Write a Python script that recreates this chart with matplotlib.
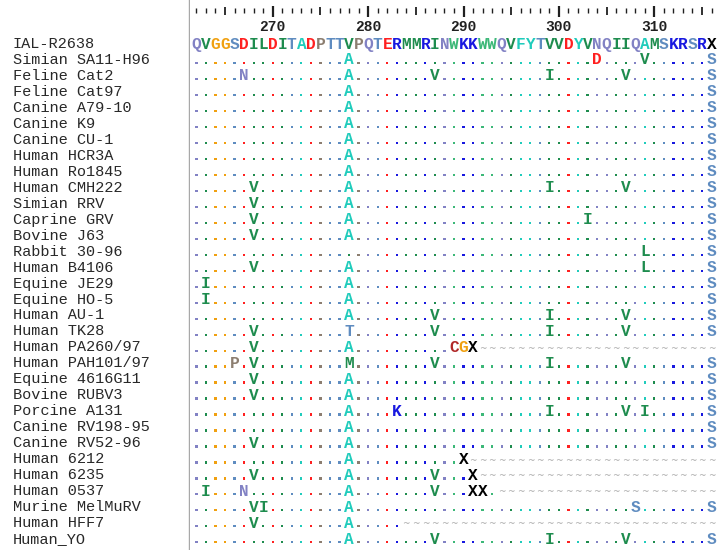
import matplotlib
matplotlib.use("Agg")
import matplotlib.pyplot as plt
import numpy as np

# ---------------- data ----------------
names = [
    "IAL-R2638", "Simian SA11-H96", "Feline Cat2", "Feline Cat97", "Canine A79-10",
    "Canine K9", "Canine CU-1", "Human HCR3A", "Human Ro1845", "Human CMH222",
    "Simian RRV", "Caprine GRV", "Bovine J63", "Rabbit 30-96", "Human B4106",
    "Equine JE29", "Equine HO-5", "Human AU-1", "Human TK28", "Human PA260/97",
    "Human PAH101/97", "Equine 4616G11", "Bovine RUBV3", "Porcine A131",
    "Canine RV198-95", "Canine RV52-96", "Human 6212", "Human 6235", "Human 0537",
    "Murine MelMuRV", "Human HFF7", "Human_YO",
]

reference = "QVGGS DILDI TADPT TVPQT ERMMR INWKK WWQVF YTVVD YVNQI IQAMS KRSRX"

# '.' identical to reference, '~' gap, letter = substitution (groups of 5 columns)
variants = [
    "..... ..... ..... .A... ..... ..... ..... ..... ..D.. ..V.. ....S",  # Simian SA11-H96
    "..... N.... ..... .A... ..... V.... ..... ..I.. ..... V.... ....S",  # Feline Cat2
    "..... ..... ..... .A... ..... ..... ..... ..... ..... ..... ....S",  # Feline Cat97
    "..... ..... ..... .A... ..... ..... ..... ..... ..... ..... ....S",  # Canine A79-10
    "..... ..... ..... .A... ..... ..... ..... ..... ..... ..... ....S",  # Canine K9
    "..... ..... ..... .A... ..... ..... ..... ..... ..... ..... ....S",  # Canine CU-1
    "..... ..... ..... .A... ..... ..... ..... ..... ..... ..... ....S",  # Human HCR3A
    "..... ..... ..... .A... ..... ..... ..... ..... ..... ..... ....S",  # Human Ro1845
    "..... .V... ..... .A... ..... ..... ..... ..I.. ..... V.... ....S",  # Human CMH222
    "..... .V... ..... .A... ..... ..... ..... ..... ..... ..... ....S",  # Simian RRV
    "..... .V... ..... .A... ..... ..... ..... ..... .I... ..... ....S",  # Caprine GRV
    "..... .V... ..... .A... ..... ..... ..... ..... ..... ..... ....S",  # Bovine J63
    "..... ..... ..... ..... ..... ..... ..... ..... ..... ..L.. ....S",  # Rabbit 30-96
    "..... .V... ..... .A... ..... ..... ..... ..... ..... ..L.. ....S",  # Human B4106
    ".I... ..... ..... .A... ..... ..... ..... ..... ..... ..... ....S",  # Equine JE29
    ".I... ..... ..... .A... ..... ..... ..... ..... ..... ..... ....S",  # Equine HO-5
    "..... ..... ..... .A... ..... V.... ..... ..I.. ..... V.... ....S",  # Human AU-1
    "..... .V... ..... .T... ..... V.... ..... ..I.. ..... V.... ....S",  # Human TK28
    "..... .V... ..... .A... ..... ..CGX ~~~~~ ~~~~~ ~~~~~ ~~~~~ ~~~~~",  # Human PA260/97
    "....P .V... ..... .M... ..... V.... ..... ..I.. ..... V.... ....S",  # Human PAH101/97
    "..... .V... ..... .A... ..... ..... ..... ..... ..... ..... ....S",  # Equine 4616G11
    "..... .V... ..... .A... ..... ..... ..... ..... ..... ..... ....S",  # Bovine RUBV3
    "..... ..... ..... .A... .K... ..... ..... ..I.. ..... V.I.. ....S",  # Porcine A131
    "..... ..... ..... .A... ..... ..... ..... ..... ..... ..... ....S",  # Canine RV198-95
    "..... .V... ..... .A... ..... ..... ..... ..... ..... ..... ....S",  # Canine RV52-96
    "..... ..... ..... .A... ..... ...X~ ~~~~~ ~~~~~ ~~~~~ ~~~~~ ~~~~~",  # Human 6212
    "..... .V... ..... .A... ..... V...X ~~~~~ ~~~~~ ~~~~~ ~~~~~ ~~~~~",  # Human 6235
    ".I... N.... ..... .A... ..... V...X X.~~~ ~~~~~ ~~~~~ ~~~~~ ~~~~~",  # Human 0537
    "..... .VI.. ..... .A... ..... ..... ..... ..... ..... .S... ....S",  # Murine MelMuRV
    "..... .V... ..... .A... ..~~~ ~~~~~ ~~~~~ ~~~~~ ~~~~~ ~~~~~ ~~~~~",  # Human HFF7
    "..... ..... ..... .A... ..... V.... ..... ..I.. ..... V.... ....S",  # Human_YO
]

first_position = 262
ruler_labels = [270, 280, 290, 300, 310]

residue_colors = {
    "Q": "#8282C4", "N": "#8282C4",
    "V": "#1E8C4E", "I": "#1E8C4E", "L": "#1E8C4E", "M": "#1E8C4E",
    "W": "#3CB878",
    "G": "#F0A010",
    "S": "#5F8CC0", "T": "#5F8CC0",
    "D": "#FF2020", "E": "#FF2020",
    "A": "#20CCBC", "F": "#20CCBC", "Y": "#20CCBC",
    "P": "#8C7E70",
    "K": "#1818E0", "R": "#1818E0",
    "C": "#B02828",
    "X": "#000000",
}

# ---------------- layout ----------------
W, H = 721, 550
X_PANEL = 190.0     # px where alignment panel starts
COL0_PX = 196.4     # px centre of first column
PITCH = 9.54        # px per column
ROW0_PX = 44.0      # px centre of first row
ROW_H = 15.97       # px per row

ref = reference.replace(" ", "")
rows = [ref] + [v.replace(" ", "") for v in variants]
ncol = len(ref)

fig = plt.figure(figsize=(W / 100, H / 100), dpi=100)
fig.patch.set_facecolor("white")

ax = fig.add_axes([X_PANEL / W, 0, 1 - X_PANEL / W, 1])
ax.set_xlim(first_position + (X_PANEL - COL0_PX) / PITCH,
            first_position + (W - COL0_PX) / PITCH)
ax.set_ylim((H - ROW0_PX) / ROW_H, -ROW0_PX / ROW_H)
ax.axis("off")

axn = fig.add_axes([0, 0, X_PANEL / W, 1])
axn.set_xlim(0, X_PANEL)
axn.set_ylim((H - ROW0_PX) / ROW_H, -ROW0_PX / ROW_H)
axn.axis("off")

# separator line
axn.axvline(X_PANEL - 1.5, color="#A8A8A8", lw=1.0)

seq_font = dict(family="Liberation Mono", fontweight="bold", fontsize=11.6)

positions = first_position + np.arange(ncol)
col_colors = [residue_colors[c] for c in ref]

dot_x, dot_y, dot_c = [], [], []
for r, seq in enumerate(rows):
    axn.text(13, r, names[r], family="Liberation Mono", fontsize=11.0,
             color="#282828", va="center", ha="left")
    for c, ch in enumerate(seq):
        x = positions[c]
        if ch == ".":
            dot_x.append(x)
            dot_y.append(r + 0.2)
            dot_c.append(col_colors[c])
        elif ch == "~":
            ax.text(x, r + 0.05, "~", color="#ABABAB", fontsize=6.5,
                    ha="center", va="center", family="DejaVu Sans")
        else:
            ax.text(x, r, ch, color=residue_colors.get(ch, "#000000"),
                    ha="center", va="center", **seq_font)

ax.scatter(dot_x, dot_y, s=2.6, c=dot_c, marker="s", linewidths=0)

# ruler
tick_top = -2.25
for p in positions:
    if p % 10 == 0:
        y0, y1 = tick_top - 0.12, tick_top + 0.55
        lw = 1.6
    elif p % 5 == 0:
        y0, y1 = tick_top - 0.05, tick_top + 0.45
        lw = 1.3
    else:
        y0, y1 = tick_top, tick_top + 0.33
        lw = 1.0
    ax.plot([p, p], [y0, y1], color="#202020", lw=lw, solid_capstyle="butt")

for lab in ruler_labels:
    ax.text(lab, -1.07, str(lab), family="Liberation Mono", fontweight="bold",
            fontsize=10.5, ha="center", va="center", color="#202020")

fig.savefig("out.png", dpi=100, facecolor="white")
